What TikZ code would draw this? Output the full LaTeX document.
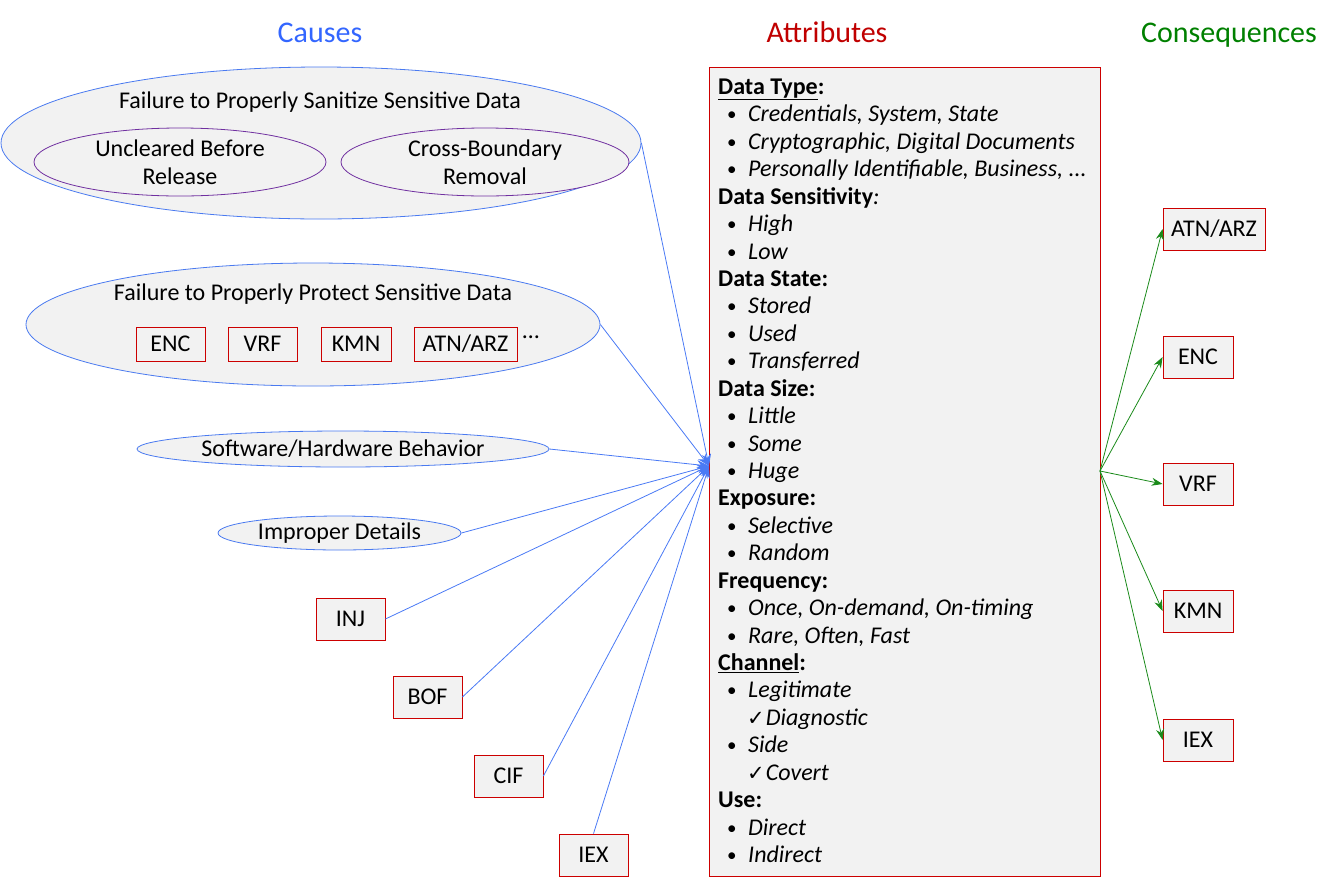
\documentclass[tikz,border=0pt]{standalone}
\usepackage{fontspec}
\setmainfont{Carlito}
\newfontfamily\dejavu{DejaVu Sans}
\usetikzlibrary{shapes.geometric,arrows.meta}
\definecolor{cblue}{HTML}{3366FF}
\definecolor{lblue}{HTML}{4A7AF5}
\definecolor{eblue}{HTML}{4A7AF0}
\definecolor{ared}{HTML}{C00000}
\definecolor{bred}{HTML}{CC0000}
\definecolor{cgreen}{HTML}{008000}
\definecolor{lgreen}{HTML}{1A8A1A}
\definecolor{epurple}{HTML}{7030A0}
\definecolor{boxgray}{HTML}{F2F2F2}
\newcommand\attrhead[1]{\textbf{#1}}
\newcommand\attritem[1]{\hspace*{9pt}\makebox[21pt][l]{\fontsize{19}{20}\selectfont\raisebox{1pt}{•}}\textit{#1}}
\newcommand\attrcheck[1]{\hspace*{29pt}{\dejavu\fontsize{21}{22}\selectfont ✓}\hspace{1pt}\textit{#1}}
\begin{document}
\begin{tikzpicture}[x=1pt,y=-1pt,
  every node/.style={font=\fontsize{24}{28}\selectfont, text=black},
  title/.style={font=\fontsize{30}{34}\selectfont, anchor=base},
  ell/.style={ellipse, draw=eblue, fill=boxgray, line width=0.8pt, inner sep=0pt},
  subell/.style={ellipse, draw=epurple, fill=boxgray, line width=0.8pt, inner sep=0pt},
  redbox/.style={draw=bred, fill=boxgray, line width=0.8pt, inner sep=0pt},
  cause/.style={draw=lblue, line width=0.8pt, -{Stealth[length=12pt,width=9pt]}},
  conseq/.style={draw=lgreen, line width=0.8pt, -{Stealth[length=11pt,width=8pt]}},
  ]
\useasboundingbox (0,0) rectangle (1336,884);
% titles
\node[title, text=cblue] (tcause) at (320,42) {Causes};
\node[title, text=ared] (tattr) at (827,42) {Attributes};
\node[title, text=cgreen] (tcons) at (1229,42) {Consequences};
% attribute box
\node[draw=bred, fill=boxgray, line width=0.8pt, minimum width=391pt, minimum height=809pt, anchor=north west, inner sep=0pt] (attr) at (709,67) {};
\foreach [count=\n] \t in {
  {\attrhead{\underline{Data Type}:}},
  {\attritem{Credentials, System, State}},
  {\attritem{Cryptographic, Digital Documents}},
  {\attritem{Personally Identifiable, Business, ...}},
  {\attrhead{Data Sensitivity}\textit{:}},
  {\attritem{High}},
  {\attritem{Low}},
  {\attrhead{Data State:}},
  {\attritem{Stored}},
  {\attritem{Used}},
  {\attritem{Transferred}},
  {\attrhead{Data Size:}},
  {\attritem{Little}},
  {\attritem{Some}},
  {\attritem{Huge}},
  {\attrhead{Exposure:}},
  {\attritem{Selective}},
  {\attritem{Random}},
  {\attrhead{Frequency:}},
  {\attritem{Once, On-demand, On-timing}},
  {\attritem{Rare, Often, Fast}},
  {\attrhead{\underline{Channel}:}},
  {\attritem{Legitimate}},
  {\attrcheck{Diagnostic}},
  {\attritem{Side}},
  {\attrcheck{Covert}},
  {\attrhead{Use:}},
  {\attritem{Direct}},
  {\attritem{Indirect}}}
  {\node[anchor=base west, inner sep=0pt] (line\n) at (718,{94.5+(\n-1)*27.43}) {\t};}
\coordinate (in) at (709,466);
\coordinate (out) at (1100,471);
% causes
\node[ell, minimum width=640pt, minimum height=152pt] (e1) at (321,143) {};
\node (e1t) at (320,102) {Failure to Properly Sanitize Sensitive Data};
\node[subell, minimum width=292pt, minimum height=68pt, align=center, font=\fontsize{24}{28}\selectfont] (e1a) at (180,162) {Uncleared Before\\Release};
\node[subell, minimum width=288pt, minimum height=68pt, align=center, font=\fontsize{24}{28}\selectfont] (e1b) at (485,162) {Cross-Boundary\\Removal};
\node[ell, minimum width=574pt, minimum height=123pt] (e2) at (313,324.5) {};
\node (e2t) at (313,294) {Failure to Properly Protect Sensitive Data};
\node[redbox, minimum width=69pt, minimum height=34pt] (penc) at (170.5,344) {ENC};
\node[redbox, minimum width=69pt, minimum height=34pt] (pvrf) at (262.5,344) {VRF};
\node[redbox, minimum width=70pt, minimum height=34pt] (pkmn) at (356,344) {KMN};
\node[redbox, minimum width=103pt, minimum height=34pt] (patn) at (465.5,344) {ATN/ARZ};
\node (pdots) at (531,337) {…};
\node[ell, minimum width=412pt, minimum height=36pt] (e3) at (343,449) {Software/Hardware Behavior};
\node[ell, minimum width=243pt, minimum height=34pt] (e4) at (339.5,533) {Improper Details};
\node[redbox, minimum width=69pt, minimum height=42pt] (inj) at (350.5,619) {INJ};
\node[redbox, minimum width=69pt, minimum height=42pt] (bof) at (427.5,697) {BOF};
\node[redbox, minimum width=69pt, minimum height=42pt] (cif) at (508.5,776) {CIF};
\node[redbox, minimum width=69pt, minimum height=42pt] (iexl) at (593.5,855) {IEX};
\draw[cause] (e1.east) -- (in);
\draw[cause] (e2.east) -- (in);
\draw[cause] (e3.east) -- (in);
\draw[cause] (e4.east) -- (in);
\draw[cause] (inj.east) -- (in);
\draw[cause] (bof.east) -- (in);
\draw[cause] (cif.east) -- (in);
\draw[cause] (iexl.north) -- (in);
% consequences
\node[redbox, minimum width=102pt, minimum height=42pt] (catn) at (1214,229) {ATN/ARZ};
\node[redbox, minimum width=70pt, minimum height=42pt] (cenc) at (1198,357) {ENC};
\node[redbox, minimum width=70pt, minimum height=42pt] (cvrf) at (1198,484) {VRF};
\node[redbox, minimum width=70pt, minimum height=42pt] (ckmn) at (1198,611) {KMN};
\node[redbox, minimum width=70pt, minimum height=42pt] (ciex) at (1198,740) {IEX};
\draw[conseq] (out) -- (catn.west);
\draw[conseq] (out) -- (cenc.west);
\draw[conseq] (out) -- (cvrf.west);
\draw[conseq] (out) -- (ckmn.west);
\draw[conseq] (out) -- (ciex.west);
\end{tikzpicture}
\end{document}
